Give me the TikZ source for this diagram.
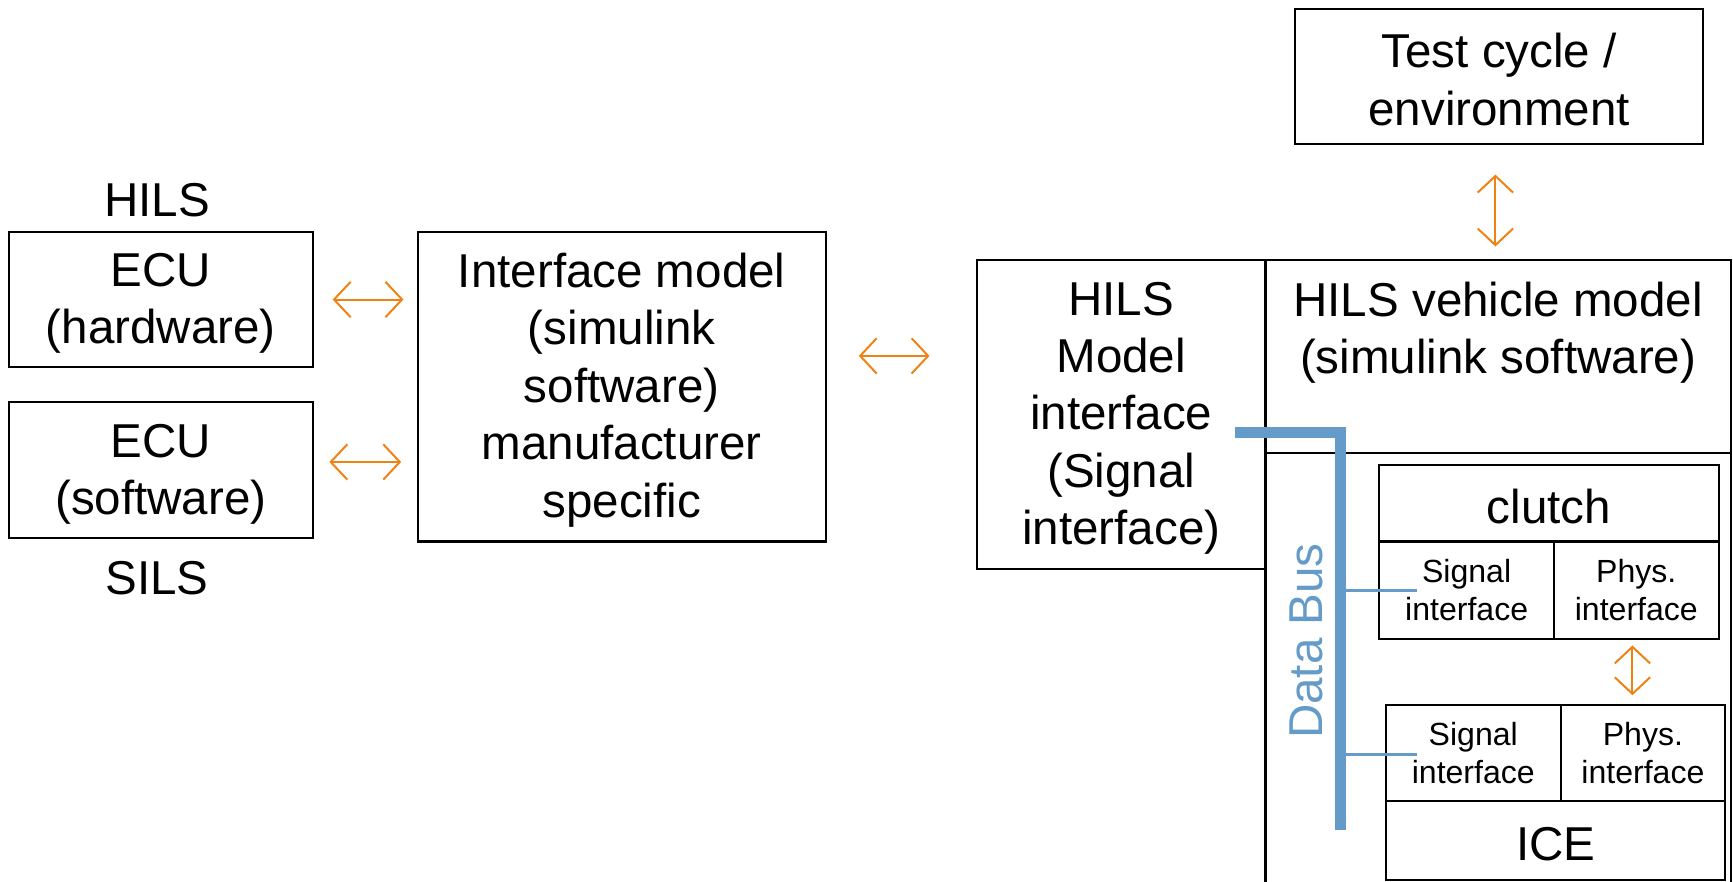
\documentclass[tikz,border=0pt]{standalone}
\usepackage{fontspec}
\setmainfont{Liberation Sans}
\usetikzlibrary{arrows.meta}
\definecolor{orng}{RGB}{240,130,20}
\definecolor{busblue}{RGB}{100,155,200}
\newcommand{\tpstrut}{\rule{0pt}{18.5pt}}
\tikzset{
  box/.style={draw=black, line width=1pt, inner sep=0pt, align=center,
    font=\fontsize{21.5}{26}\selectfont},
  smallbox/.style={draw=black, line width=1pt, inner sep=0pt, align=center,
    font=\fontsize{14.5}{17}\selectfont},
  bigtext/.style={inner sep=0pt, align=center, font=\fontsize{21.5}{26}\selectfont},
  oarr/.style={draw=orng, line width=0.9pt,
    {Straight Barb[length=7.5pt,width=16pt]}-{Straight Barb[length=7.5pt,width=16pt]}},
  busmain/.style={draw=busblue, line width=5pt},
  busbranch/.style={draw=busblue, line width=1.4pt},
}
\begin{document}
\begin{tikzpicture}[x=0.5pt,y=-0.5pt]
\useasboundingbox (0,0) rectangle (1568,798);
\begin{scope}
\clip (0,0) rectangle (1568,798);
% left side
\node[bigtext] (hilslbl) at (142,181) {HILS};
\node[bigtext] (silslbl) at (142,523) {SILS};
\node[box, minimum width=137.5pt, minimum height=61pt] (ecuhw) at (145.5,271) {\tpstrut ECU\\(hardware)};
\node[box, minimum width=137.5pt, minimum height=61.5pt] (ecusw) at (145.5,425.5) {\tpstrut ECU\\(software)};
\node[box, minimum width=184.5pt, minimum height=140pt] (intf) at (562.5,350)
  {\tpstrut Interface model\\(simulink\\software)\\manufacturer\\specific};
% right side
\node[box, minimum width=184.5pt, minimum height=61pt] (test) at (1356.5,69) {\tpstrut Test cycle /\\environment};
\node[box, minimum width=130.5pt, minimum height=140pt] (hilsmi) at (1014.5,375)
  {\tpstrut HILS\\Model\\interface\\(Signal\\interface)};
\node[draw=black, line width=1pt, inner sep=0pt, minimum width=210.5pt, minimum height=87.5pt] (veh) at (1355.5,322.5) {};
\node[bigtext] (vehtext) at (1355.5,301) {HILS vehicle model\\(simulink software)};
\draw[line width=1pt] (1145,830) -- (1145,410) -- (1566,410) -- (1566,830);
% clutch
\node[box, minimum width=153.5pt, minimum height=34.5pt] (clutch) at (1401.5,455.5) {\tpstrut clutch};
\node[smallbox, minimum width=79pt, minimum height=44pt] (csig) at (1327,534) {Signal\\interface};
\node[smallbox, minimum width=74.5pt, minimum height=44pt] (cphys) at (1480.5,534) {Phys.\\interface};
% ICE
\node[smallbox, minimum width=79pt, minimum height=43.5pt] (isig) at (1333,681.5) {Signal\\interface};
\node[smallbox, minimum width=74.5pt, minimum height=43.5pt] (iphys) at (1486.5,681.5) {Phys.\\interface};
\node[box, minimum width=153.5pt, minimum height=35.5pt] (ice) at (1407.5,760.5) {\tpstrut ICE};
% data bus
\coordinate (busL) at (1117,391);
\coordinate (busC) at (1213,391);
\coordinate (busB) at (1213,751);
\coordinate (br1) at (1282,534);
\coordinate (br2) at (1282,683);
\draw[busbranch] (br1) -- (br1 -| busC);
\draw[busbranch] (br2) -- (br2 -| busC);
\draw[busmain] (busL) -- ([xshift=2.5pt]busC);
\draw[busmain] (busC) -- (busB);
\node[inner sep=0pt, rotate=90, text=busblue, font=\fontsize{21.5}{26}\selectfont] (buslbl) at (1182,580) {Data Bus};
% arrows
\draw[oarr, shorten <=8.5pt, shorten >=6pt] (ecuhw.east) -- (ecuhw.east -| intf.west);
\draw[oarr, shorten <=7pt, shorten >=7pt] ([yshift=3.75pt]ecusw.east) -- ([yshift=3.75pt]ecusw.east -| intf.west);
\draw[oarr, shorten <=14.5pt, shorten >=21pt] ([yshift=14pt]intf.east) -- ([yshift=14pt]intf.east -| hilsmi.west);
\draw[oarr, shorten <=13.5pt, shorten >=5.5pt] ([xshift=-1.75pt]test.south) -- ([xshift=-1.75pt]test.south |- veh.north);
\draw[oarr, shorten <=2.5pt, shorten >=4pt] ([xshift=-1.75pt]cphys.south) -- ([xshift=-1.75pt]cphys.south |- iphys.north);
\end{scope}
\end{tikzpicture}
\end{document}
